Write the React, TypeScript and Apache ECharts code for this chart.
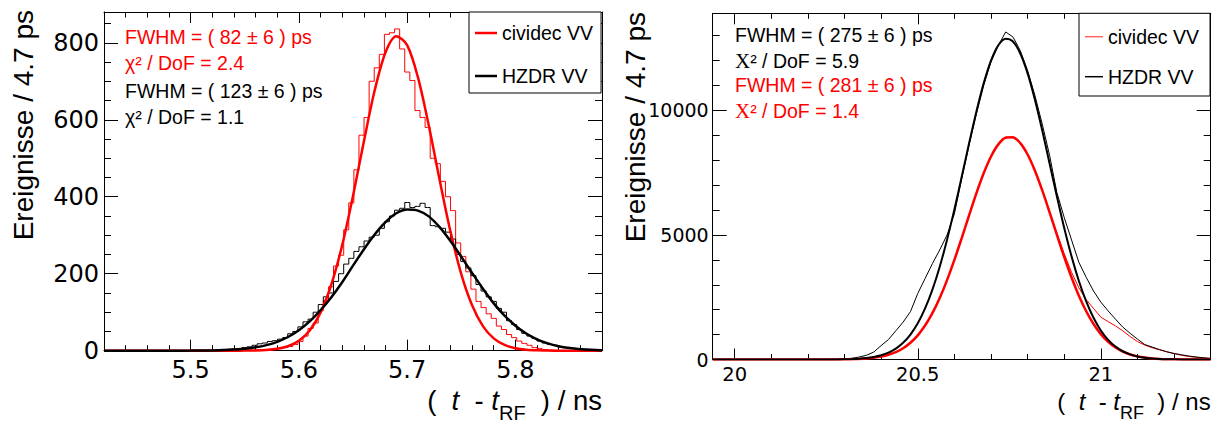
import React, { useEffect, useRef } from "react";
import * as echarts from "echarts";

// ---------- Left panel: histograms (bin width 4.7 ps) ----------
const leftBinStart = 5.4205;
const leftBinWidth = 0.0047;
const leftCividecHist = [
  0, 0, 0, 0, 0, 0, 0, 0, 0, 0,
  0, 0, 0, 0, 0, 0, 0, 0, 0, 0,
  0, 0, 0, 0, 0, 0, 0, 0, 0, 1,
  1, 1, 2, 3, 5, 8, 11, 16, 24, 38,
  58, 72, 104, 130, 166, 220, 248, 314, 384, 470,
  560, 606, 700, 735, 770, 822, 826, 836, 784, 724,
  702, 624, 606, 580, 500, 486, 440, 400, 364, 280,
  245, 205, 160, 128, 112, 96, 84, 64, 55, 42,
  34, 25, 19, 14, 8, 6, 3, 2, 1, 0,
  0, 0, 0, 0, 0, 0, 0, 0,
];
const leftHzdrHist = [
  0, 0, 0, 0, 0, 0, 0, 0, 0, 0,
  0, 0, 0, 0, 0, 0, 0, 0, 0, 0,
  1, 2, 2, 3, 4, 5, 6, 8, 10, 14,
  18, 20, 24, 26, 30, 34, 44, 50, 62, 75,
  82, 100, 120, 140, 150, 180, 200, 225, 240, 258,
  270, 285, 295, 300, 318, 335, 350, 365, 370, 385,
  372, 375, 383, 372, 325, 322, 318, 308, 290, 250,
  232, 215, 195, 172, 155, 140, 128, 110, 100, 78,
  68, 55, 45, 38, 32, 25, 20, 16, 14, 10,
  8, 6, 5, 4, 3, 2, 2, 1,
];
// ---------- Left panel: fit curves (sampled every 0.01 ns from 5.42) ----------
const leftFitStart = 5.42;
const leftFitStep = 0.01;
const leftCividecFit = [
  0, 0, 0, 0, 0, 0, 0, 0, 0, 0, 0, 0,
  0.1, 0.2, 0.6, 1.8, 4.8, 11.6, 25.8, 52.7, 99, 172,
  274, 402, 543, 676, 775, 817, 794, 710, 585, 444,
  310, 199, 118, 64, 32, 14.9, 6.3, 2.5, 0.9, 0.3,
  0.1, 0, 0, 0, 0,
];
const leftHzdrFit = [
  0, 0, 0, 0, 0, 0, 0,
  0.1, 0.2, 0.4,
  0.8, 1.5, 2.8, 5.1, 8.7, 14.5, 23.1, 35.6, 53, 76,
  105, 139, 178, 221, 263, 302, 334, 357, 367, 364,
  349, 321, 285, 244, 202, 161, 123, 91, 65, 44.7,
  29.6, 18.9, 11.6, 6.9, 4.0, 2.2, 1.2,
];

// ---------- Right panel (sampled every 0.02 ns from 19.94) ----------
const rightStart = 19.94;
const rightStep = 0.02;
const rightCividecHist = [
  0, 0, 0, 0, 0, 0, 0, 0, 0, 0, 0, 0, 0,
  0, 1, 2, 3, 5, 9, 15, 25, 42, 72,
  120, 190, 300, 455, 680, 975, 1370, 1850, 2480, 3180,
  4010, 4860, 5800, 6650, 7490, 8130, 8660, 8930, 8900, 8700,
  8250, 7600, 6820, 5950, 5080, 4250, 3500, 2880, 2400, 2050,
  1700, 1520, 1350, 1150, 920, 720, 580, 470, 390, 310,
  240, 170, 120, 90, 60, 40,
];
const rightHzdrHist = [
  0, 0, 0, 0, 0, 0, 0, 0, 0, 0, 0, 0, 0,
  0, 1, 3, 6, 12, 25, 50, 100, 170, 300,
  560, 800, 1150, 1500, 1920, 2650, 3250, 3850, 4400, 5000,
  5850, 7250, 8600, 9850, 11000, 11950, 12600, 13150, 12950, 12400,
  11600, 10600, 9450, 8200, 6700, 5700, 4800, 3900, 3300, 2750,
  2300, 1950, 1620, 1300, 1050, 820, 600, 500, 400, 310,
  240, 190, 140, 100, 70, 45,
];
const rightCividecFit = [
  0, 0, 0, 0, 0, 0, 0, 0, 0, 0, 0, 0, 0,
  0, 0, 1, 1, 3, 7, 13, 23, 41, 70,
  117, 189, 296, 453, 672, 971, 1363, 1860, 2469, 3186,
  3997, 4876, 5782, 6668, 7475, 8150, 8638, 8901, 8919, 8689,
  8230, 7579, 6787, 5909, 5002, 4115, 3294, 2562, 1938, 1425,
  1020, 710, 479, 315, 201, 125, 76, 44, 25, 14,
  8, 4, 2, 1, 0, 0,
];
const rightHzdrFit = [
  0, 0, 0, 0, 0, 0, 0, 0, 0, 0, 0, 0, 0,
  0, 0, 1, 1, 4, 9, 18, 32, 58, 100,
  169, 275, 436, 670, 1001, 1453, 2049, 2804, 3725, 4809,
  6027, 7334, 8669, 9949, 11089, 12002, 12615, 12877, 12765, 12287,
  11487, 10427, 9191, 7869, 6542, 5279, 4141, 3152, 2331, 1674,
  1166, 790, 519, 331, 206, 124, 73, 41, 23, 12,
  6, 3, 1, 1, 0, 0,
];

const legendNames = ["cividec VV", "HZDR VV"];
const leftNotes = [
  "FWHM = ( 82 ± 6 ) ps",
  "χ² / DoF = 2.4",
  "FWHM = ( 123 ± 6 ) ps",
  "χ² / DoF = 1.1",
];
const rightNotes = [
  "FWHM = ( 275 ± 6 ) ps",
  "{s|X}² / DoF = 5.9",
  "FWHM = ( 281 ± 6 ) ps",
  "{s|X}² / DoF = 1.4",
];
const yTitle = "Ereignisse / 4.7 ps";

const RED = "#ff0000";
const BLACK = "#000000";
const TICK_FONT = "DejaVu Sans";
const TEXT_FONT = "Liberation Sans";

const fmt = (v: number) => String(Math.round(v * 1000) / 1000);

function xAxes(grid: number, min: number, max: number, step: number, fontSize: number, margin: number) {
  const base = {
    gridIndex: grid,
    type: "value",
    min,
    max,
    minInterval: step,
    maxInterval: step,
    axisLine: { show: true, onZero: false, lineStyle: { color: BLACK, width: 1 } },
    axisTick: { show: true, inside: true, length: 11, lineStyle: { color: BLACK, width: 1 } },
    minorTick: { show: true, splitNumber: 5, length: 5.5, lineStyle: { color: BLACK, width: 1 } },
    splitLine: { show: false },
    minorSplitLine: { show: false },
  };
  return [
    {
      ...base,
      position: "bottom",
      axisLabel: {
        show: true,
        fontFamily: TICK_FONT,
        fontSize,
        color: BLACK,
        margin,
        showMinLabel: false,
        showMaxLabel: false,
        formatter: fmt,
      },
    },
    { ...base, position: "top", axisLabel: { show: false } },
  ];
}

function yAxes(grid: number, max: number, interval: number, minorSplit: number, fontSize: number, margin: number) {
  const base = {
    gridIndex: grid,
    type: "value",
    min: 0,
    max,
    interval,
    axisLine: { show: true, onZero: false, lineStyle: { color: BLACK, width: 1 } },
    axisTick: { show: true, inside: true, length: 14, lineStyle: { color: BLACK, width: 1 } },
    minorTick: { show: true, splitNumber: minorSplit, length: 7, lineStyle: { color: BLACK, width: 1 } },
    splitLine: { show: false },
    minorSplitLine: { show: false },
  };
  return [
    {
      ...base,
      position: "left",
      axisLabel: {
        show: true,
        fontFamily: TICK_FONT,
        fontSize,
        color: BLACK,
        margin,
        showMaxLabel: false,
        formatter: fmt,
      },
    },
    { ...base, position: "right", axisLabel: { show: false } },
  ];
}

function lineSeries(
  name: string,
  xIndex: number,
  yIndex: number,
  data: number[][],
  color: string,
  width: number,
  opts: any = {}
) {
  return {
    type: "line",
    name,
    xAxisIndex: xIndex,
    yAxisIndex: yIndex,
    data,
    symbol: "none",
    showSymbol: false,
    silent: true,
    lineStyle: { color, width },
    itemStyle: { color },
    ...opts,
  };
}

const histPts = (vals: number[]) => vals.map((v, i) => [leftBinStart + leftBinWidth * (i + 0.5), v]);
const leftFitPts = (vals: number[]) => vals.map((v, i) => [leftFitStart + leftFitStep * i, v]);
const rightPts = (vals: number[]) => vals.map((v, i) => [rightStart + rightStep * i, v]);

function noteText(x: number, y: number, text: string, color: string) {
  return {
    type: "text",
    x,
    y,
    silent: true,
    style: {
      text,
      fill: color,
      fontFamily: TEXT_FONT,
      fontSize: 19.5,
      align: "left",
      verticalAlign: "middle",
      rich: { s: { fontFamily: "Liberation Serif", fontSize: 21, fill: color } },
    },
  };
}

function xTitle(right: number, top: number, size: number, sub: number, pad: number) {
  const nb = "\u00a0";
  return {
    type: "text",
    x: right,
    y: top,
    silent: true,
    style: {
      text: `{n|(${nb}${nb}}{i|t}{n|${nb}${nb}-${nb}}{i|t}{s|RF}{n|${nb}${nb})${nb}/${nb}ns}`,
      align: "right",
      verticalAlign: "top",
      fill: BLACK,
      rich: {
        n: { fontFamily: TEXT_FONT, fontSize: size, lineHeight: size, verticalAlign: "top", fill: BLACK },
        i: { fontFamily: TEXT_FONT, fontSize: size, lineHeight: size, verticalAlign: "top", fontStyle: "italic", fill: BLACK },
        s: { fontFamily: TEXT_FONT, fontSize: sub, lineHeight: sub, verticalAlign: "top", padding: [pad, 0, 0, 0], fill: BLACK },
      },
    },
  };
}

function yTitleText(x: number, y: number) {
  return {
    type: "text",
    x,
    y,
    rotation: Math.PI / 2,
    silent: true,
    style: {
      text: yTitle,
      fill: BLACK,
      fontFamily: TEXT_FONT,
      fontSize: 28,
      align: "right",
      verticalAlign: "middle",
    },
  };
}

function legend(left: number, top: number, padding: number[], gap: number, w: number, h: number, colors: string[]) {
  return {
    show: true,
    orient: "vertical",
    left,
    top,
    padding,
    itemGap: gap,
    itemWidth: w,
    itemHeight: h,
    borderColor: BLACK,
    borderWidth: 1,
    backgroundColor: "#ffffff",
    selectedMode: false,
    itemStyle: { borderWidth: 0 },
    textStyle: { fontFamily: TEXT_FONT, fontSize: 19.5, lineHeight: 20, color: BLACK },
    data: legendNames.map((n, i) => ({ name: n, icon: "rect", itemStyle: { color: colors[i], borderWidth: 0 } })),
  };
}

const option: any = {
  animation: false,
  backgroundColor: "#ffffff",
  grid: [
    { left: 104, top: 12, width: 498, height: 338.7, containLabel: false },
    { left: 712.7, top: 13.3, width: 498, height: 346.2, containLabel: false },
  ],
  xAxis: [
    ...xAxes(0, 5.42, 5.88, 0.1, 24, 7),
    ...xAxes(1, 19.94, 21.3, 0.5, 19.5, 5),
  ],
  yAxis: [
    ...yAxes(0, 880, 200, 4, 24, 5),
    ...yAxes(1, 13900, 5000, 5, 19, 4),
  ],
  legend: [
    legend(469, 12, [11, 8, 7, 6], 23, 22, 2.5, [RED, BLACK]),
    legend(1079, 13.3, [13.4, 11, 9.3, 6], 20, 18, 1.5, ["#ff6666", BLACK]),
  ],
  series: [
    lineSeries("cividec VV", 0, 0, histPts(leftCividecHist), RED, 1, { step: "middle" }),
    lineSeries("HZDR VV", 0, 0, histPts(leftHzdrHist), BLACK, 1, { step: "middle" }),
    lineSeries("cividec VV fit", 0, 0, leftFitPts(leftCividecFit), RED, 2.5, { smooth: 0.3 }),
    lineSeries("HZDR VV fit", 0, 0, leftFitPts(leftHzdrFit), BLACK, 2.5, { smooth: 0.3 }),
    lineSeries("cividec VV", 2, 2, rightPts(rightCividecHist), RED, 1),
    lineSeries("HZDR VV", 2, 2, rightPts(rightHzdrHist), BLACK, 1),
    lineSeries("cividec VV fit", 2, 2, rightPts(rightCividecFit), RED, 2.5, { smooth: 0.3 }),
    lineSeries("HZDR VV fit", 2, 2, rightPts(rightHzdrFit), BLACK, 2, { smooth: 0.3 }),
  ],
  graphic: [
    yTitleText(23.2, 10),
    yTitleText(635.2, 12),
    xTitle(602, 386.5, 27.5, 20, 16),
    xTitle(1210.7, 389.5, 24, 18, 14),
    noteText(125, 36.5, leftNotes[0], RED),
    noteText(125, 63.3, leftNotes[1], RED),
    noteText(125, 91, leftNotes[2], BLACK),
    noteText(125, 117.2, leftNotes[3], BLACK),
    noteText(735, 35, rightNotes[0], BLACK),
    noteText(735, 61.2, rightNotes[1], BLACK),
    noteText(735, 85, rightNotes[2], RED),
    noteText(735, 111.2, rightNotes[3], RED),
  ],
};

export default function App() {
  const ref = useRef<HTMLDivElement>(null);
  useEffect(() => {
    if (!ref.current) return;
    const chart = echarts.init(ref.current, null, { renderer: "svg" });
    chart.setOption(option);
    return () => chart.dispose();
  }, []);
  return (
    <div
      ref={ref}
      style={{ position: "fixed", left: 0, top: 0, width: 1221, height: 423, background: "#ffffff" }}
    />
  );
}
